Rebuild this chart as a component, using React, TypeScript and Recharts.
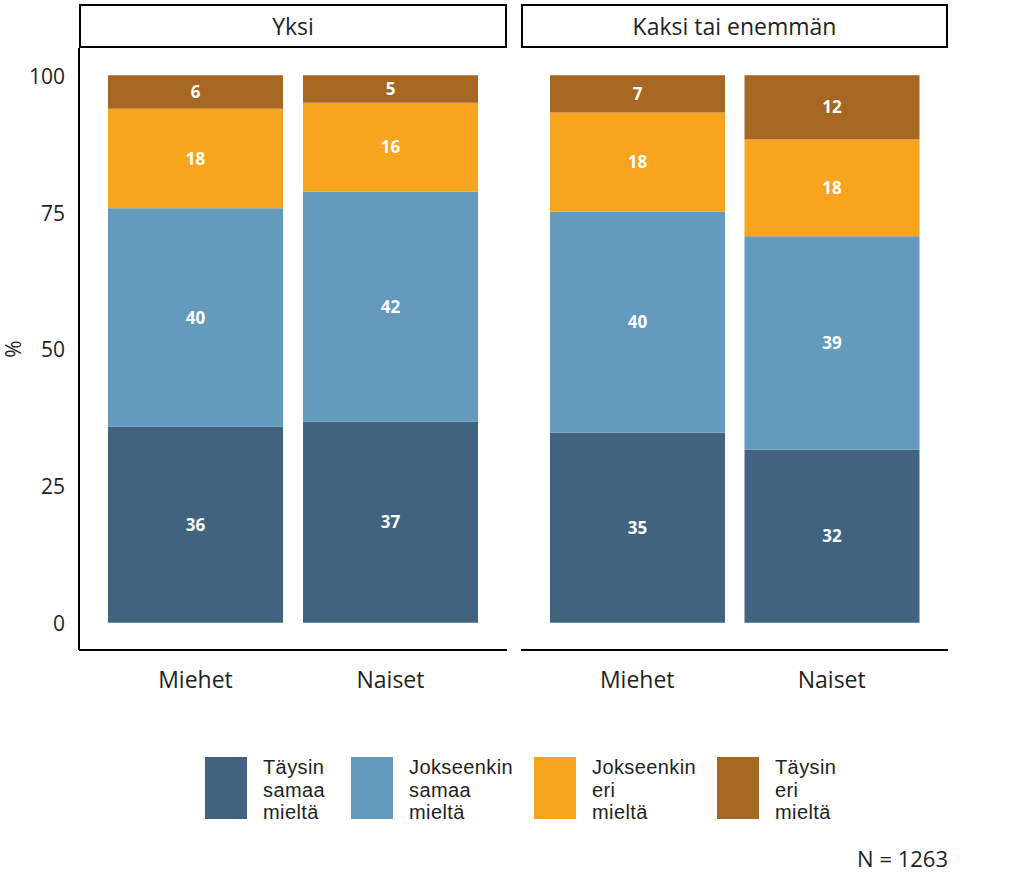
import React from 'react';
import { BarChart, Bar, XAxis, YAxis, LabelList } from 'recharts';

// ---- data ----
const categories = ['Miehet', 'Naiset'];
const panelTitles = ['Yksi', 'Kaksi tai enemmän'];
const seriesNames = [
  'Täysin samaa mieltä',
  'Jokseenkin samaa mieltä',
  'Jokseenkin eri mieltä',
  'Täysin eri mieltä',
];
const seriesColors = ['#41637f', '#659abf', '#f9a41f', '#a66722'];

// Yksi (Miehet, Naiset)
const yksiTaysinSamaa = [35.8, 36.7];
const yksiJokseenkinSamaa = [39.9, 42.1];
const yksiJokseenkinEri = [18.2, 16.2];
const yksiTaysinEri = [6.1, 5.0];

// Kaksi tai enemmän (Miehet, Naiset)
const kaksiTaysinSamaa = [34.7, 31.6];
const kaksiJokseenkinSamaa = [40.4, 39.0];
const kaksiJokseenkinEri = [18.1, 17.7];
const kaksiTaysinEri = [6.8, 11.7];

const yTicks = [0, 25, 50, 75, 100];
const nLabel = 'N = 1263';

const seriesKeys = ['s0', 's1', 's2', 's3'];

function buildData(series: number[][]) {
  return categories.map((c, i) => {
    const row: Record<string, string | number> = { cat: c };
    series.forEach((s, j) => {
      row[seriesKeys[j]] = s[i];
    });
    return row;
  });
}

const yksiData = buildData([yksiTaysinSamaa, yksiJokseenkinSamaa, yksiJokseenkinEri, yksiTaysinEri]);
const kaksiData = buildData([kaksiTaysinSamaa, kaksiJokseenkinSamaa, kaksiJokseenkinEri, kaksiTaysinEri]);

const FONT = '"Open Sans", sans-serif';
const LEGEND_FONT = '"Liberation Sans", Arial, sans-serif';
const TEXT = '#1f1f1f';
const legendItemWidths = [146, 183, 183, 150];

function bars() {
  return seriesKeys.map((k, j) => (
    <Bar key={k} dataKey={k} stackId="a" fill={seriesColors[j]} barSize={175} isAnimationActive={false}>
      <LabelList
        dataKey={k}
        position="center"
        fill="#ffffff"
        fontSize={17}
        fontWeight={700}
        fontFamily={FONT}
        formatter={(v: any) => Math.round(Number(v))}
      />
    </Bar>
  ));
}

function Strip({ title, left, width }: { title: string; left: number; width: number }) {
  return (
    <div
      style={{
        position: 'absolute',
        left,
        top: 4,
        width,
        height: 44,
        boxSizing: 'border-box',
        border: '2px solid #000',
        display: 'flex',
        alignItems: 'center',
        justifyContent: 'center',
        fontSize: 23,
        color: TEXT,
        fontFamily: FONT,
      }}
    >
      {title}
    </div>
  );
}

const xTick = { fontSize: 23, fill: TEXT, fontFamily: FONT };

export default function App() {
  return (
    <div
      style={{
        position: 'absolute',
        left: 0,
        top: 0,
        width: 1024,
        height: 878,
        background: '#fff',
        fontFamily: FONT,
        overflow: 'hidden',
      }}
    >
      <Strip title={panelTitles[0]} left={79} width={428} />
      <Strip title={panelTitles[1]} left={521} width={427} />

      <div style={{ position: 'absolute', left: 0, top: 0 }}>
        <BarChart width={520} height={700} data={yksiData} margin={{ top: 48, right: 13, bottom: 0, left: 0 }}>
          <XAxis
            dataKey="cat"
            height={50}
            padding={{ left: 19, right: 19 }}
            tickLine={false}
            tickSize={0}
            tickMargin={22}
            axisLine={{ stroke: '#000', strokeWidth: 2 }}
            tick={xTick}
            interval={0}
          />
          <YAxis
            width={79}
            domain={[-5, 105]}
            ticks={yTicks}
            allowDataOverflow
            tickLine={false}
            tickSize={0}
            tickMargin={14}
            axisLine={{ stroke: '#000', strokeWidth: 2 }}
            tick={{ fontSize: 21, fill: TEXT, fontFamily: FONT, dy: 1 }}
            label={{
              content: (props: any) => {
                const vb = props.viewBox || {};
                const cx = (vb.x || 0) + 13;
                const cy = (vb.y || 0) + (vb.height || 0) / 2;
                return (
                  <text
                    x={cx}
                    y={cy}
                    transform={`rotate(-90 ${cx} ${cy})`}
                    textAnchor="middle"
                    dominantBaseline="central"
                    fontSize={21}
                    fill={TEXT}
                    fontFamily={FONT}
                  >
                    %
                  </text>
                );
              },
            }}
          />
          {bars()}
        </BarChart>
      </div>

      <div style={{ position: 'absolute', left: 521, top: 0 }}>
        <BarChart width={440} height={700} data={kaksiData} margin={{ top: 48, right: 13, bottom: 0, left: 0 }}>
          <XAxis
            dataKey="cat"
            height={50}
            padding={{ left: 19, right: 19 }}
            tickLine={false}
            tickSize={0}
            tickMargin={22}
            axisLine={{ stroke: '#000', strokeWidth: 2 }}
            tick={xTick}
            interval={0}
          />
          <YAxis hide domain={[-5, 105]} ticks={yTicks} allowDataOverflow />
          {bars()}
        </BarChart>
      </div>

      {/* legend */}
      <div
        style={{
          position: 'absolute',
          left: 205,
          top: 757,
          display: 'flex',
          alignItems: 'flex-start',
        }}
      >
        {seriesNames.map((name, j) => (
          <div key={name} style={{ display: 'flex', alignItems: 'flex-start', width: legendItemWidths[j] }}>
            <div style={{ width: 42, height: 62, background: seriesColors[j], flex: 'none' }} />
            <div
              style={{
                marginLeft: 16,
                marginTop: -1,
                fontSize: 20,
                lineHeight: '22.5px',
                letterSpacing: 0.4,
                color: TEXT,
                fontFamily: LEGEND_FONT,
                whiteSpace: 'nowrap',
              }}
            >
              {name.split(' ').map((w) => (
                <div key={w}>{w}</div>
              ))}
            </div>
          </div>
        ))}
      </div>

      <div
        style={{
          position: 'absolute',
          right: 1024 - 948,
          top: 847,
          fontSize: 22,
          lineHeight: '22px',
          color: TEXT,
          fontFamily: FONT,
        }}
      >
        {nLabel}
      </div>
    </div>
  );
}
